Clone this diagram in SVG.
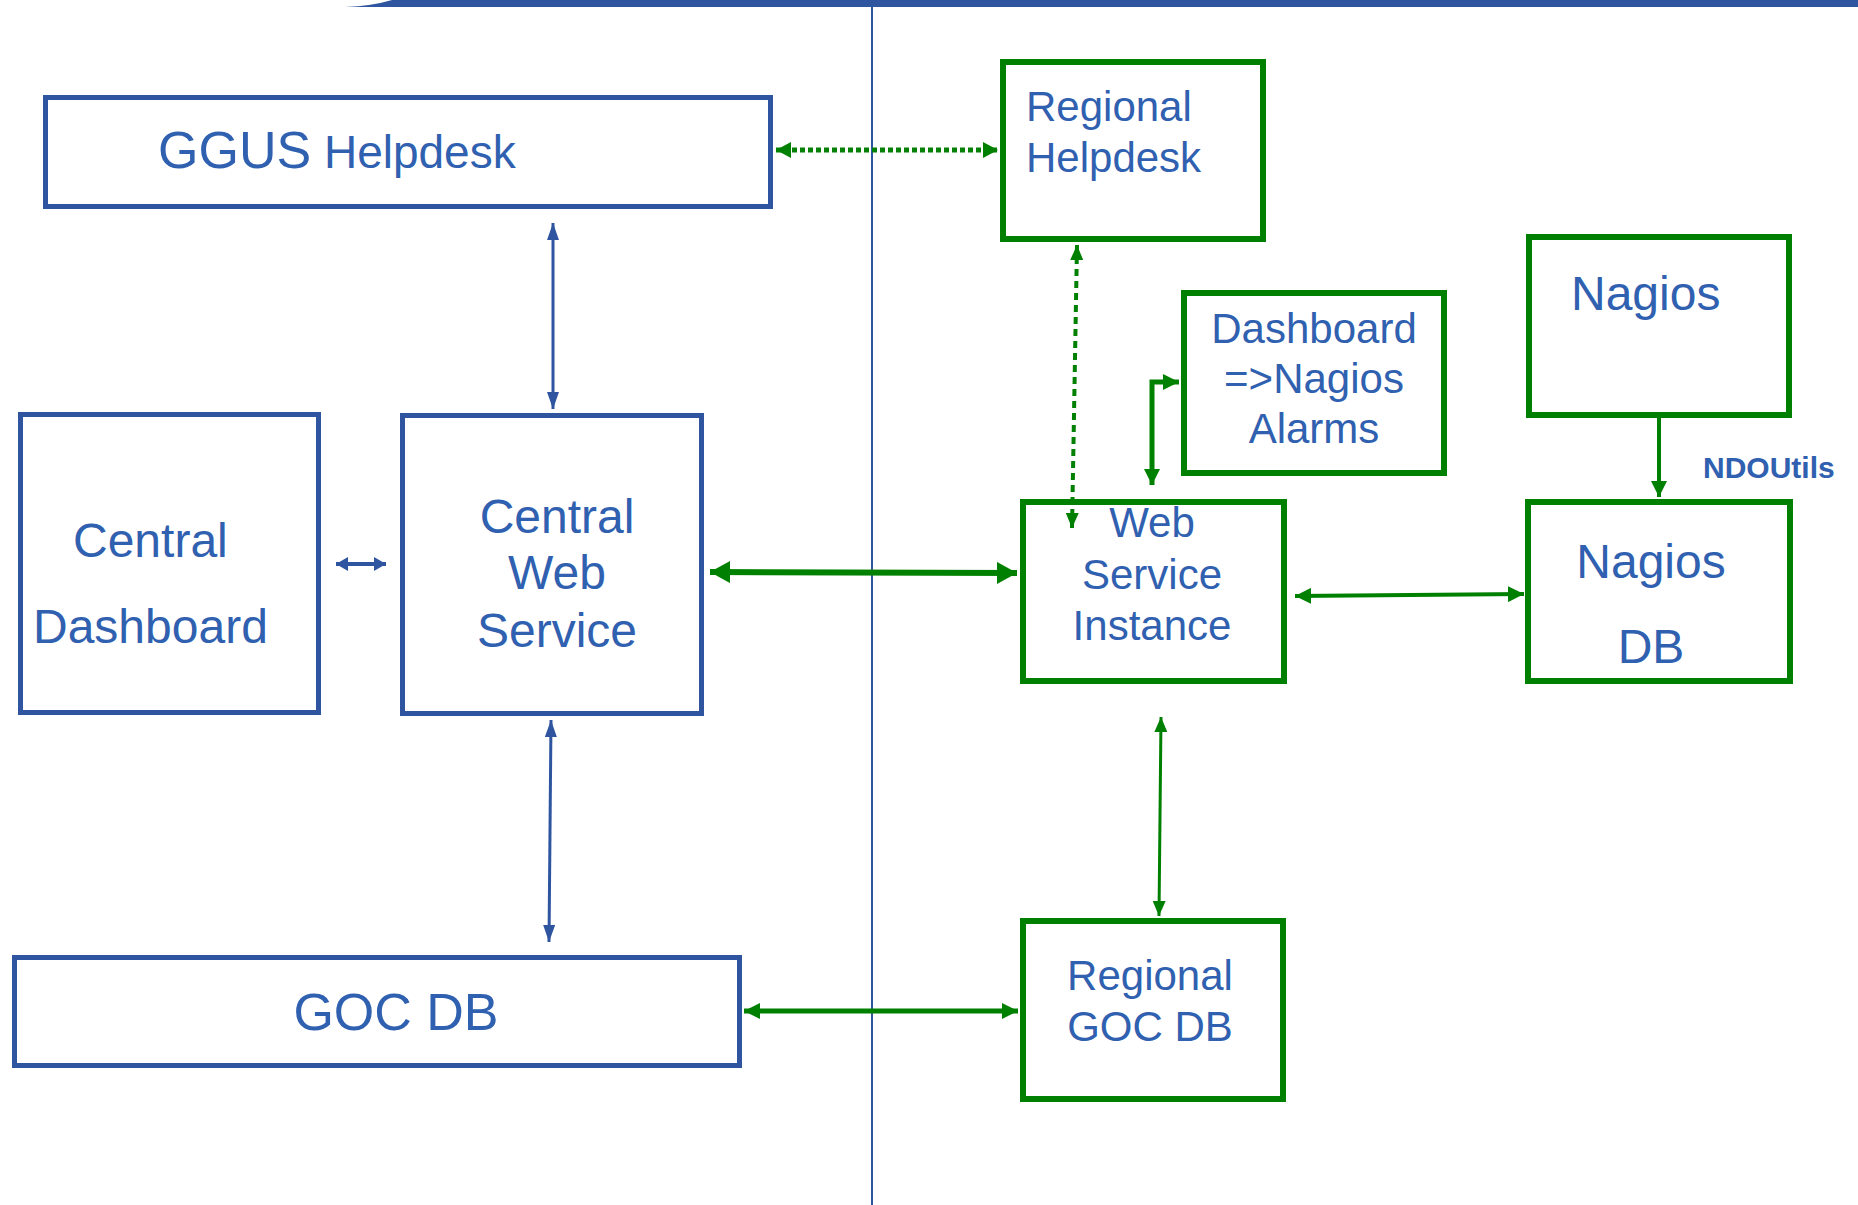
<svg xmlns="http://www.w3.org/2000/svg" width="1858" height="1205" viewBox="0 0 1858 1205">
<style>
.bb{fill:none;stroke:#2F55A0;stroke-width:5}
.gb{fill:none;stroke:#008000;stroke-width:6}
.t{font-family:"Liberation Sans",Arial,sans-serif;fill:#3060B0}
.m{text-anchor:middle}
.cb{stroke:#2F55A0;fill:none}
.cg{stroke:#008000;fill:none}
</style>
<defs>
<marker id="ab" markerUnits="userSpaceOnUse" markerWidth="17" markerHeight="12" refX="17" refY="6" orient="auto-start-reverse"><path d="M0,0 L17,6 L0,12 z" fill="#2F55A0"/></marker>
<marker id="abs" markerUnits="userSpaceOnUse" markerWidth="12" markerHeight="14" refX="12" refY="7" orient="auto-start-reverse"><path d="M0,0 L12,7 L0,14 z" fill="#2F55A0"/></marker>
<marker id="agL" markerUnits="userSpaceOnUse" markerWidth="20" markerHeight="22" refX="20" refY="11" orient="auto-start-reverse"><path d="M0,0 L20,11 L0,22 z" fill="#008000"/></marker>
<marker id="agm" markerUnits="userSpaceOnUse" markerWidth="16" markerHeight="16" refX="16" refY="8" orient="auto-start-reverse"><path d="M0,0 L16,8 L0,16 z" fill="#008000"/></marker>
<marker id="ags" markerUnits="userSpaceOnUse" markerWidth="15" markerHeight="13" refX="15" refY="6.5" orient="auto-start-reverse"><path d="M0,0 L15,6.5 L0,13 z" fill="#008000"/></marker>
<marker id="agd" markerUnits="userSpaceOnUse" markerWidth="15" markerHeight="16" refX="15" refY="8" orient="auto-start-reverse"><path d="M0,0 L15,8 L0,16 z" fill="#008000"/></marker>
</defs>
<rect width="1858" height="1205" fill="#ffffff"/>
<path d="M345,7 Q372,6 392,0 L1858,0 L1858,7 Z" fill="#2F55A0"/>
<line x1="872" y1="0" x2="872" y2="1205" stroke="#2F55A0" stroke-width="2"/>

<g id="connectors">
<line class="cb" x1="553" y1="223" x2="553" y2="409" stroke-width="3" marker-start="url(#ab)" marker-end="url(#ab)"/>
<line class="cb" x1="551" y1="720" x2="549" y2="942" stroke-width="3" marker-start="url(#ab)" marker-end="url(#ab)"/>
<line class="cb" x1="336" y1="564" x2="386" y2="564" stroke-width="4" marker-start="url(#abs)" marker-end="url(#abs)"/>
<line class="cg" x1="710" y1="572" x2="1017" y2="573" stroke-width="6" marker-start="url(#agL)" marker-end="url(#agL)"/>
<line class="cg" x1="744" y1="1011" x2="1018" y2="1011" stroke-width="5" marker-start="url(#agm)" marker-end="url(#agm)"/>
<line class="cg" x1="1295" y1="596" x2="1524" y2="594" stroke-width="4" marker-start="url(#agm)" marker-end="url(#agm)"/>
<line class="cg" x1="1161" y1="717" x2="1159" y2="916" stroke-width="3" marker-start="url(#ags)" marker-end="url(#ags)"/>
<line class="cg" x1="1659" y1="418" x2="1659" y2="497" stroke-width="4" marker-end="url(#agm)"/>
<path class="cg" d="M1152,485 V382 H1179" stroke-width="5" marker-start="url(#agm)" marker-end="url(#agm)"/>
<line class="cg" x1="776" y1="150" x2="998" y2="150" stroke-width="5" stroke-dasharray="5 3" marker-start="url(#agd)" marker-end="url(#agd)"/>
<line class="cg" x1="1077" y1="245" x2="1072" y2="528" stroke-width="4" stroke-dasharray="7 5" marker-start="url(#ags)" marker-end="url(#ags)"/>
</g>

<g id="ggus">
<rect class="bb" x="45.5" y="97.5" width="725" height="109"/>
<text class="t" x="158" y="168"><tspan font-size="52">GGUS</tspan><tspan font-size="46"> Helpdesk</tspan></text>
</g>
<g id="central-dashboard">
<rect class="bb" x="20.5" y="414.5" width="298" height="298"/>
<text class="t" font-size="48" x="73" y="557">Central</text>
<text class="t" font-size="48" x="33" y="643">Dashboard</text>
</g>
<g id="central-web-service">
<rect class="bb" x="402.5" y="415.5" width="299" height="298"/>
<text class="t m" font-size="48" x="557" y="533">Central</text>
<text class="t m" font-size="48" x="557" y="589">Web</text>
<text class="t m" font-size="48" x="557" y="647">Service</text>
</g>
<g id="goc-db">
<rect class="bb" x="14.5" y="957.5" width="725" height="108"/>
<text class="t m" font-size="52" x="396" y="1030">GOC DB</text>
</g>
<g id="regional-helpdesk">
<rect class="gb" x="1003" y="62" width="260" height="177"/>
<text class="t" font-size="42" x="1026" y="121">Regional</text>
<text class="t" font-size="42" x="1026" y="172">Helpdesk</text>
</g>
<g id="dashboard-nagios-alarms">
<rect class="gb" x="1184" y="293" width="260" height="180"/>
<text class="t m" font-size="42" x="1314" y="343">Dashboard</text>
<text class="t m" font-size="42" x="1314" y="393">=&gt;Nagios</text>
<text class="t m" font-size="42" x="1314" y="443">Alarms</text>
</g>
<g id="nagios">
<rect class="gb" x="1529" y="237" width="260" height="178"/>
<text class="t" font-size="48" x="1571" y="310">Nagios</text>
</g>
<text class="t" font-size="30" font-weight="bold" x="1703" y="478">NDOUtils</text>
<g id="web-service-instance">
<rect class="gb" x="1023" y="502" width="261" height="179"/>
<text class="t m" font-size="42" x="1152" y="537">Web</text>
<text class="t m" font-size="42" x="1152" y="589">Service</text>
<text class="t m" font-size="42" x="1152" y="640">Instance</text>
</g>
<g id="nagios-db">
<rect class="gb" x="1528" y="502" width="262" height="179"/>
<text class="t m" font-size="48" x="1651" y="578">Nagios</text>
<text class="t m" font-size="48" x="1651" y="663">DB</text>
</g>
<g id="regional-goc-db">
<rect class="gb" x="1023" y="921" width="260" height="178"/>
<text class="t m" font-size="42" x="1150" y="990">Regional</text>
<text class="t m" font-size="42" x="1150" y="1041">GOC DB</text>
</g>
</svg>
